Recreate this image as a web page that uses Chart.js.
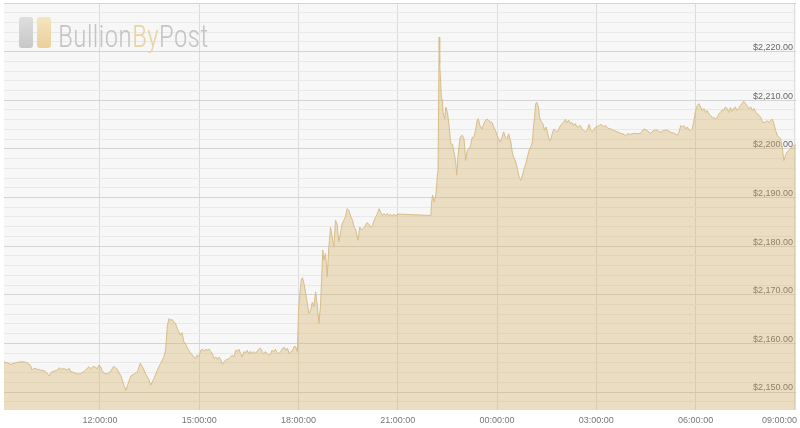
<!DOCTYPE html>
<html>
<head>
<meta charset="utf-8">
<title>Gold price</title>
<script src="https://cdn.jsdelivr.net/npm/chart.js@4.4.1/dist/chart.umd.min.js"></script>
<style>
  html, body { margin: 0; padding: 0; background: #fff; }
  #wrap { position: relative; width: 800px; height: 428px; }
  #logo { position: absolute; left: 19px; top: 17px; width: 200px; height: 36px; pointer-events: none; }
  .bar { position: absolute; top: 0; width: 14px; height: 31px; border-radius: 3px; }
  #bar1 { left: 0; background: linear-gradient(#dedede, #c8c8c8); }
  #bar2 { left: 18px; background: linear-gradient(#f4e4bf, #ead09b); }
  #logo_text { position: absolute; left: 39px; top: 3px; font-size: 32px; line-height: 32px; font-weight: 300;
    font-family: "Liberation Sans Narrow", "Roboto Condensed", Roboto, sans-serif; color: #c4c4c4; white-space: nowrap;
    transform: scaleX(0.88); transform-origin: left top; }
  #logo_text span { color: #e9d3a3; }
</style>
</head>
<body>
<div id="wrap">
  <canvas id="chart" width="800" height="428"></canvas>
  <div id="logo">
    <div class="bar" id="bar1"></div>
    <div class="bar" id="bar2"></div>
    <div id="logo_text">Bullion<span>By</span>Post</div>
  </div>
</div>
<script>
// minutes after 09:00 (day 1) and gold price in USD
let minutes = [6, 12, 18, 24, 30, 36, 42, 48, 54, 57, 60, 66, 73, 79, 85, 88, 91, 97, 103, 106,
  109, 115, 121, 124, 127, 133, 139, 145, 151, 157, 160, 163, 169, 175, 178, 181, 184, 187, 193, 199,
  205, 211, 218, 224, 227, 230, 236, 242, 248, 253, 257, 263, 269, 272, 278, 284, 290, 296, 299, 302,
  305, 308, 311, 314, 317, 320, 323, 326, 329, 332, 335, 338, 341, 344, 347, 350, 353, 356, 359, 363,
  366, 369, 372, 375, 378, 381, 384, 387, 390, 393, 396, 399, 402, 405, 408, 411, 414, 417, 420, 423,
  426, 429, 432, 435, 438, 441, 444, 447, 450, 453, 456, 459, 462, 465, 468, 471, 474, 477, 480, 483,
  486, 489, 492, 495, 498, 501, 504, 508, 511, 514, 517, 520, 523, 526, 529, 532, 535, 538, 540, 543,
  545, 547, 550, 553, 556, 559, 562, 565, 568, 571, 574, 577, 580, 584, 586, 589, 592, 595, 598, 601,
  604, 607, 610, 613, 616, 619, 622, 625, 628, 631, 635, 638, 641, 644, 647, 648, 651, 654, 657, 660,
  664, 667, 671, 674, 677, 680, 683, 686, 689, 692, 695, 698, 701, 704, 707, 710, 713, 716, 719, 780,
  781, 783, 786, 789, 792, 793, 795, 796, 799, 801, 802, 805, 807, 810, 813, 816, 819, 822, 825, 827,
  829, 833, 837, 840, 843, 846, 849, 852, 855, 858, 861, 864, 866, 869, 873, 876, 879, 882, 885, 888,
  891, 894, 897, 900, 903, 906, 909, 912, 915, 918, 921, 925, 928, 931, 934, 937, 940, 943, 946, 949,
  952, 955, 958, 961, 964, 966, 968, 970, 972, 975, 977, 980, 983, 986, 989, 992, 995, 997, 1000, 1003,
  1006, 1009, 1012, 1015, 1018, 1021, 1024, 1027, 1030, 1033, 1036, 1039, 1042, 1045, 1048, 1051, 1054, 1057, 1060, 1063,
  1067, 1070, 1073, 1076, 1079, 1082, 1085, 1088, 1091, 1094, 1097, 1100, 1106, 1112, 1118, 1124, 1130, 1133, 1136, 1142,
  1148, 1154, 1160, 1166, 1172, 1178, 1184, 1190, 1196, 1202, 1208, 1215, 1221, 1227, 1230, 1233, 1236, 1239, 1242, 1245,
  1248, 1251, 1254, 1257, 1260, 1263, 1266, 1269, 1272, 1275, 1278, 1281, 1284, 1287, 1290, 1293, 1296, 1299, 1302, 1305,
  1308, 1311, 1314, 1317, 1320, 1323, 1326, 1329, 1332, 1335, 1338, 1341, 1344, 1347, 1350, 1353, 1356, 1360, 1363, 1366,
  1369, 1372, 1375, 1378, 1381, 1384, 1387, 1390, 1393, 1396, 1399, 1402, 1405, 1408, 1411, 1414, 1417, 1420, 1423, 1426,
  1429, 1432, 1435, 1438, 1442]

let prices = [2156.2, 2156.0, 2155.7, 2155.9, 2156.1, 2156.2, 2156.2, 2156.0, 2155.5, 2154.5, 2154.9, 2154.7, 2154.5, 2154.4, 2153.7, 2153.3, 2154.0, 2154.3, 2154.5, 2155.0,
  2154.7, 2154.8, 2154.5, 2154.9, 2154.2, 2154.0, 2153.7, 2153.8, 2154.2, 2154.9, 2155.2, 2154.8, 2155.3, 2154.8, 2155.5, 2155.3, 2154.4, 2153.9, 2153.7, 2154.2,
  2155.3, 2154.7, 2153.3, 2151.2, 2150.3, 2151.4, 2153.3, 2153.7, 2154.2, 2155.9, 2155.2, 2153.7, 2152.5, 2151.4, 2152.8, 2154.5, 2155.9, 2157.2, 2158.6, 2163.4,
  2165.1, 2164.8, 2164.9, 2164.4, 2164.1, 2163.1, 2162.4, 2161.7, 2162.2, 2160.3, 2160.0, 2159.2, 2158.6, 2158.1, 2157.7, 2157.2, 2156.9, 2157.6, 2157.2, 2158.6,
  2158.8, 2158.4, 2158.8, 2158.6, 2158.8, 2158.3, 2157.8, 2156.9, 2157.2, 2156.7, 2157.2, 2156.6, 2155.7, 2156.2, 2156.6, 2156.7, 2156.9, 2157.2, 2157.6, 2157.2,
  2158.6, 2158.4, 2158.8, 2157.9, 2157.2, 2158.3, 2158.1, 2158.6, 2157.8, 2158.4, 2157.9, 2158.3, 2157.9, 2158.4, 2158.8, 2159.0, 2158.3, 2157.8, 2158.3, 2157.9,
  2157.6, 2157.8, 2158.6, 2158.3, 2158.8, 2158.1, 2157.9, 2158.3, 2159.0, 2159.2, 2158.6, 2159.0, 2157.9, 2158.3, 2158.4, 2159.4, 2159.3, 2158.3, 2166.8, 2170.9,
  2173.0, 2173.5, 2172.3, 2170.3, 2168.2, 2166.2, 2166.8, 2168.5, 2167.5, 2170.6, 2167.9, 2164.1, 2168.0, 2179.2, 2177.1, 2178.5, 2173.7, 2179.8, 2183.9, 2181.9,
  2179.8, 2185.3, 2184.6, 2180.9, 2182.6, 2184.6, 2185.3, 2186.0, 2187.7, 2187.4, 2186.0, 2185.3, 2183.9, 2183.3, 2181.5, 2181.2, 2183.9, 2183.3, 2183.6, 2184.0,
  2184.8, 2184.6, 2183.9, 2184.2, 2185.3, 2186.0, 2186.7, 2187.7, 2187.0, 2186.3, 2186.7, 2186.3, 2186.7, 2186.3, 2186.5, 2186.2, 2186.6, 2186.2, 2186.6, 2186.3,
  2188.7, 2190.5, 2189.1, 2190.5, 2194.8, 2195.5, 2223.0, 2217.5, 2210.6, 2209.9, 2207.5, 2206.2, 2208.6, 2207.5, 2204.8, 2201.0, 2201.0, 2199.3, 2197.3, 2194.6,
  2198.3, 2202.4, 2202.8, 2202.1, 2197.6, 2199.7, 2200.0, 2200.7, 2202.4, 2202.4, 2203.8, 2205.9, 2206.2, 2204.8, 2204.1, 2205.2, 2205.9, 2206.1, 2205.8, 2205.6,
  2205.4, 2204.5, 2203.8, 2202.8, 2202.1, 2201.4, 2202.4, 2203.5, 2202.4, 2202.1, 2203.1, 2201.4, 2199.0, 2198.0, 2197.3, 2195.9, 2194.2, 2193.5, 2194.6, 2195.9,
  2196.9, 2198.3, 2199.7, 2200.4, 2201.4, 2204.5, 2206.5, 2209.3, 2209.6, 2208.6, 2206.5, 2205.6, 2205.2, 2203.8, 2204.5, 2203.1, 2201.7, 2201.8, 2203.1, 2204.1,
  2203.8, 2203.5, 2204.1, 2204.8, 2205.2, 2205.6, 2206.1, 2205.4, 2205.9, 2205.2, 2205.4, 2204.8, 2205.2, 2204.5, 2204.6, 2204.8, 2204.1, 2203.8, 2203.5, 2203.8,
  2205.0, 2203.8, 2203.5, 2204.1, 2204.5, 2204.6, 2204.8, 2205.0, 2204.8, 2204.6, 2204.8, 2204.3, 2204.1, 2203.8, 2203.5, 2203.2, 2203.0, 2202.6, 2203.1, 2203.0,
  2203.2, 2203.1, 2203.2, 2204.1, 2203.8, 2203.2, 2203.8, 2203.9, 2203.4, 2203.8, 2203.9, 2203.4, 2203.2, 2202.8, 2203.4, 2204.8, 2204.5, 2204.8, 2204.1, 2204.5,
  2203.9, 2203.8, 2204.1, 2205.9, 2207.9, 2208.9, 2209.3, 2208.6, 2207.9, 2208.3, 2207.5, 2207.9, 2207.2, 2206.9, 2206.5, 2206.4, 2206.2, 2206.4, 2207.2, 2207.5,
  2208.0, 2207.9, 2208.6, 2208.3, 2207.5, 2208.5, 2207.7, 2208.3, 2208.6, 2207.9, 2208.3, 2208.9, 2209.3, 2209.8, 2209.4, 2208.9, 2208.3, 2208.6, 2207.9, 2208.3,
  2207.5, 2207.2, 2206.9, 2206.5, 2205.5, 2205.4, 2205.5, 2205.8, 2205.4, 2205.9, 2206.1, 2205.2, 2203.8, 2202.8, 2202.4, 2202.1, 2200.4, 2197.6, 2198.7, 2199.4,
  2199.7, 2200.0, 2200.5, 2200.7, 2200.8]

let time_ticks = [180, 360, 540, 720, 900, 1080, 1260, 1440]
let price_ticks = [2150, 2160, 2170, 2180, 2190, 2200, 2210, 2220]
let y_min = 2146.3
let y_max = 2230
let grid_step = 2

let points = []
for (let i = 0; i < minutes.length; i++) {
    points.push({ x: minutes[i], y: prices[i] })
}

function time_label(v) {
    let h = (9 + Math.floor(v / 60)) % 24
    return (h < 10 ? '0' + h : '' + h) + ':00:00'
}

function price_label(v) {
    if (!price_ticks.includes(v)) return ''
    return '$' + v.toLocaleString('en-US', { minimumFractionDigits: 2, maximumFractionDigits: 2 })
}

let plot_bg = {
    id: 'plot_bg',
    beforeDraw(chart) {
        let a = chart.chartArea
        let c = chart.ctx
        c.save()
        c.fillStyle = '#f7f7f7'
        c.fillRect(a.left, a.top, a.right - a.left, a.bottom - a.top)
        c.restore()
        // last time label sits inside the canvas, right aligned
        let items = chart.scales.x.getLabelItems(a)
        let last = items[items.length - 1]
        if (last) {
            last.options.textAlign = 'right'
            last.options.translation[0] = chart.width - 3
        }
    }
}

let ctx = document.getElementById('chart').getContext('2d')

let myChart = new Chart(ctx, {
    type: 'line',
    data: {
        datasets: [{
            data: points,
            borderColor: '#d8bd89',
            borderWidth: 1,
            backgroundColor: 'rgba(212, 175, 100, 0.36)',
            fill: 'start',
            pointRadius: 0,
            tension: 0
        }]
    },
    options: {
        responsive: false,
        animation: false,
        layout: { padding: { left: 4, top: 3, right: 4, bottom: 0 } },
        plugins: {
            legend: { display: false },
            tooltip: { enabled: false }
        },
        scales: {
            x: {
                type: 'linear',
                min: minutes[0],
                max: minutes[minutes.length - 1],
                afterBuildTicks: s => { s.ticks = time_ticks.map(v => ({ value: v })) },
                afterFit: s => { s.height = 18; s.paddingLeft = 0; s.paddingRight = 0 },
                grid: { color: '#dcdcdc', drawTicks: false },
                border: { display: false },
                ticks: {
                    autoSkip: false,
                    maxRotation: 0,
                    padding: 5,
                    color: '#777',
                    font: { family: 'Liberation Sans', size: 9 },
                    callback: v => time_label(v)
                }
            },
            y: {
                position: 'right',
                min: y_min,
                max: y_max,
                afterBuildTicks: s => {
                    let t = []
                    for (let v = Math.ceil(y_min / grid_step) * grid_step; v <= y_max; v += grid_step) t.push({ value: v })
                    s.ticks = t
                },
                afterFit: s => { s.width = 0; s.paddingTop = 0; s.paddingBottom = 0 },
                grid: {
                    color: c => (c.tick && c.tick.value % 10 === 0) ? '#d4d4d4' : '#e9e9e9',
                    drawTicks: false
                },
                border: { display: false },
                ticks: {
                    mirror: true,
                    autoSkip: false,
                    padding: -3,
                    labelOffset: -4,
                    color: '#666',
                    font: { family: 'Liberation Sans', size: 9 },
                    callback: v => price_label(v)
                }
            }
        }
    },
    plugins: [plot_bg]
});
</script>
</body>
</html>
